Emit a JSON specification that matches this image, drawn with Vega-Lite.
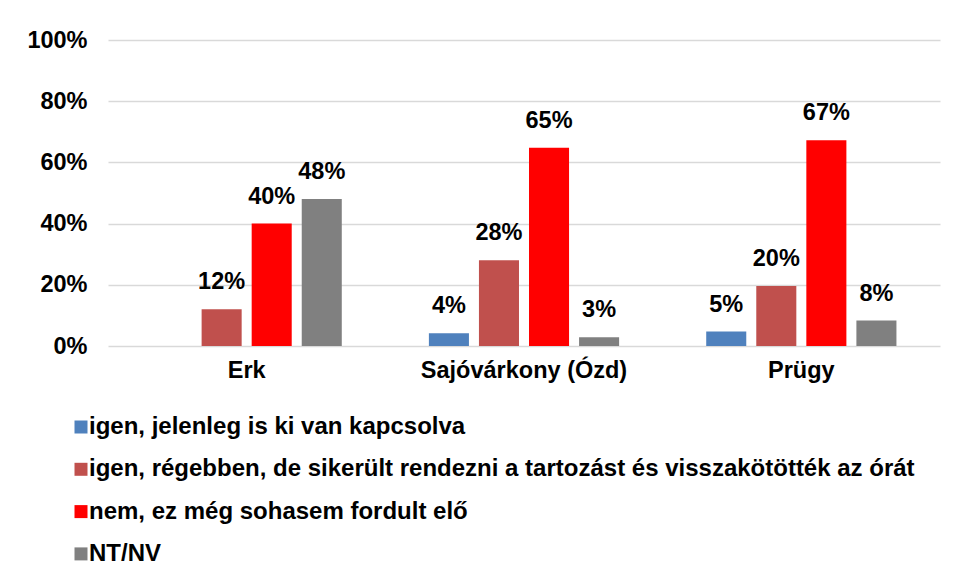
{
  "$schema": "https://vega.github.io/schema/vega-lite/v6.json",
  "width": 832,
  "height": 306,
  "autosize": "none",
  "padding": {"left": 108, "top": 40, "right": 17, "bottom": 233},
  "background": "white",
  "config": {
    "font": "Liberation Sans",
    "view": {"stroke": null}
  },
  "data": {
    "values": [
      {"telepules": "Erk", "valasz": "igen, régebben, de sikerült rendezni a tartozást és visszakötötték az órát", "arany": 0.12},
      {"telepules": "Erk", "valasz": "nem, ez még sohasem fordult elő", "arany": 0.40},
      {"telepules": "Erk", "valasz": "NT/NV", "arany": 0.48},
      {"telepules": "Sajóvárkony (Ózd)", "valasz": "igen, jelenleg is ki van kapcsolva", "arany": 0.042},
      {"telepules": "Sajóvárkony (Ózd)", "valasz": "igen, régebben, de sikerült rendezni a tartozást és visszakötötték az órát", "arany": 0.28},
      {"telepules": "Sajóvárkony (Ózd)", "valasz": "nem, ez még sohasem fordult elő", "arany": 0.648},
      {"telepules": "Sajóvárkony (Ózd)", "valasz": "NT/NV", "arany": 0.029},
      {"telepules": "Prügy", "valasz": "igen, jelenleg is ki van kapcsolva", "arany": 0.047},
      {"telepules": "Prügy", "valasz": "igen, régebben, de sikerült rendezni a tartozást és visszakötötték az órát", "arany": 0.196},
      {"telepules": "Prügy", "valasz": "nem, ez még sohasem fordult elő", "arany": 0.672},
      {"telepules": "Prügy", "valasz": "NT/NV", "arany": 0.083}
    ]
  },
  "encoding": {
    "x": {
      "field": "telepules",
      "type": "nominal",
      "sort": ["Erk", "Sajóvárkony (Ózd)", "Prügy"],
      "scale": {"paddingInner": 0.278, "paddingOuter": 0.139},
      "axis": {
        "title": null,
        "labelAngle": 0,
        "labelFont": "Liberation Sans",
        "labelFontWeight": "bold",
        "labelFontSize": 23.5,
        "labelColor": "#000000",
        "labelPadding": 12,
        "labelLimit": 0,
        "ticks": false,
        "domain": false
      }
    },
    "xOffset": {
      "field": "valasz",
      "type": "nominal",
      "scale": {
        "domain": [
          "igen, jelenleg is ki van kapcsolva",
          "igen, régebben, de sikerült rendezni a tartozást és visszakötötték az órát",
          "nem, ez még sohasem fordult elő",
          "NT/NV"
        ],
        "paddingInner": 0.2,
        "paddingOuter": 0.1
      }
    },
    "y": {
      "field": "arany",
      "type": "quantitative",
      "scale": {"domain": [0, 1]},
      "axis": {
        "title": null,
        "format": ".0%",
        "values": [0, 0.2, 0.4, 0.6, 0.8, 1],
        "labelFont": "Liberation Sans",
        "labelFontWeight": "bold",
        "labelFontSize": 23.5,
        "labelColor": "#000000",
        "labelPadding": 21,
        "ticks": false,
        "domain": false,
        "grid": true,
        "gridColor": "#D9D9D9",
        "gridWidth": 1.5
      }
    }
  },
  "layer": [
    {
      "mark": {"type": "bar"},
      "encoding": {
        "color": {
          "field": "valasz",
          "type": "nominal",
          "scale": {
            "domain": [
              "igen, jelenleg is ki van kapcsolva",
              "igen, régebben, de sikerült rendezni a tartozást és visszakötötték az órát",
              "nem, ez még sohasem fordult elő",
              "NT/NV"
            ],
            "range": ["#4F81BD", "#C0504D", "#FF0000", "#808080"]
          },
          "legend": {
            "title": null,
            "orient": "none",
            "legendX": -39,
            "legendY": 375,
            "direction": "vertical",
            "symbolType": "square",
            "symbolSize": 169,
            "symbolStrokeWidth": 0,
            "labelFont": "Liberation Sans",
            "labelFontWeight": "bold",
            "labelFontSize": 24,
            "labelColor": "#000000",
            "labelLimit": 0,
            "labelOffset": -4,
            "rowPadding": 18.3
          }
        }
      }
    },
    {
      "mark": {
        "type": "text",
        "baseline": "bottom",
        "dy": -15,
        "font": "Liberation Sans",
        "fontWeight": "bold",
        "fontSize": 23.5,
        "color": "#000000"
      },
      "encoding": {
        "text": {"field": "arany", "type": "quantitative", "format": ".0%"}
      }
    }
  ]
}
